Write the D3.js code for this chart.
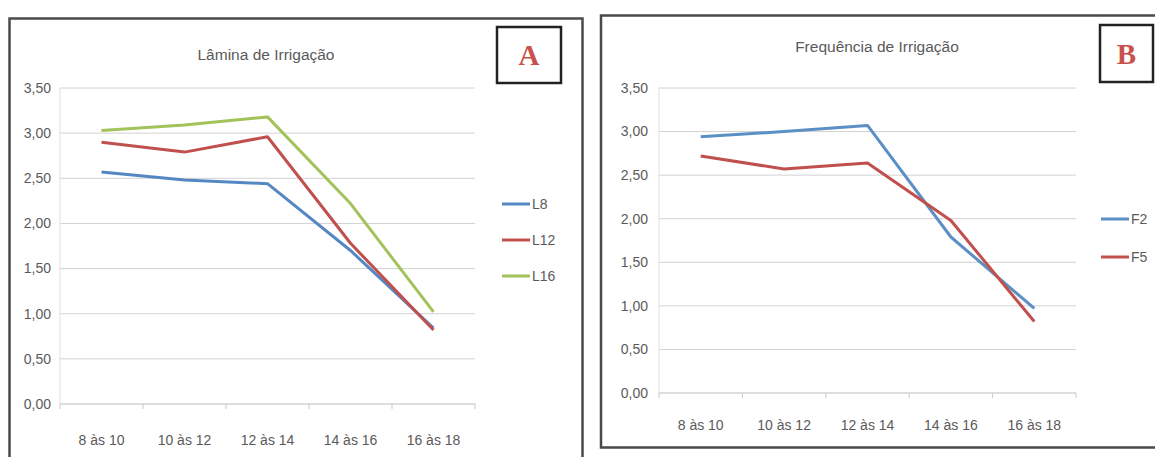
<!DOCTYPE html>
<html>
<head>
<meta charset="utf-8">
<script src="https://cdn.jsdelivr.net/npm/d3@7"></script>
<style>
  html, body { margin: 0; padding: 0; background: #ffffff; }
  svg { display: block; }
  .lbl { font-family: "Liberation Sans", Arial, sans-serif; fill: #5a5a5a; }
</style>
</head>
<body>
<svg id="chart" width="1155" height="457"></svg>
<script>
// Time windows of the day (x categories)
const periods = ["8 às 10", "10 às 12", "12 às 14", "14 às 16", "16 às 18"];
const yTicks = [0, 0.5, 1, 1.5, 2, 2.5, 3, 3.5];

// Panel A – irrigation depth
const seriesA = ["L8", "L12", "L16"];
const L8  = [2.57, 2.48, 2.44, 1.70, 0.84];
const L12 = [2.90, 2.79, 2.96, 1.78, 0.82];
const L16 = [3.03, 3.09, 3.18, 2.22, 1.02];

// Panel B – irrigation frequency
const seriesB = ["F2", "F5"];
const F2 = [2.94, 3.00, 3.07, 1.79, 0.97];
const F5 = [2.72, 2.57, 2.64, 1.98, 0.82];

const colors = { L8: "#5587c2", L12: "#c0504d", L16: "#a3c35a", F2: "#5b8fc6", F5: "#c0504d" };
const fmt = v => d3.format(".2f")(v).replace(".", ",");

const svg = d3.select("#chart");

function panel(cfg) {
  const g = svg.append("g");

  // outer frame
  g.append("rect")
    .attr("x", cfg.frame[0]).attr("y", cfg.frame[1])
    .attr("width", cfg.frame[2]).attr("height", cfg.frame[3])
    .attr("fill", "none").attr("stroke", "#4a4a4a").attr("stroke-width", 2.5);

  const x = d3.scaleBand().domain(periods).range(cfg.xr).padding(0);
  const y = d3.scaleLinear().domain([0, 3.5]).range(cfg.yr);

  // horizontal gridlines
  g.append("g").selectAll("line").data(yTicks).join("line")
    .attr("x1", cfg.xr[0]).attr("x2", cfg.xr[1])
    .attr("y1", d => y(d)).attr("y2", d => y(d))
    .attr("stroke", d => d === 0 ? "#bdbdbd" : "#d2d2d2").attr("stroke-width", 1);

  // vertical axis line
  g.append("line")
    .attr("x1", cfg.xr[0]).attr("x2", cfg.xr[0])
    .attr("y1", y(3.5)).attr("y2", y(0))
    .attr("stroke", "#e0e0e0");

  // category tick marks at band edges
  const edges = periods.map(p => x(p)).concat([cfg.xr[1]]);
  g.append("g").selectAll("line").data(edges).join("line")
    .attr("x1", d => d).attr("x2", d => d)
    .attr("y1", y(0)).attr("y2", y(0) + 5)
    .attr("stroke", "#c8c8c8");

  // y tick labels
  g.append("g").selectAll("text").data(yTicks).join("text")
    .attr("class", "lbl")
    .attr("x", cfg.yLabelX).attr("y", d => y(d))
    .attr("dy", "0.35em").attr("text-anchor", "end")
    .attr("font-size", 14)
    .text(fmt);

  // x tick labels
  g.append("g").selectAll("text").data(periods).join("text")
    .attr("class", "lbl")
    .attr("x", d => x(d) + x.bandwidth() / 2).attr("y", cfg.xLabelY)
    .attr("text-anchor", "middle").attr("font-size", 14)
    .text(d => d);

  // title
  g.append("text").attr("class", "lbl")
    .attr("x", cfg.title[1]).attr("y", cfg.title[2])
    .attr("text-anchor", "middle").attr("font-size", 15.5)
    .text(cfg.title[0]);

  // series lines
  const line = d3.line()
    .x((d, i) => x(periods[i]) + x.bandwidth() / 2)
    .y(d => y(d));
  cfg.series.forEach(s => {
    g.append("path")
      .datum(cfg.values[s])
      .attr("d", line)
      .attr("fill", "none")
      .attr("stroke", colors[s])
      .attr("stroke-width", 3)
      .attr("stroke-linejoin", "round");
  });

  // legend
  cfg.series.forEach((s, i) => {
    const ly = cfg.legend[1] + i * cfg.legend[2];
    g.append("line")
      .attr("x1", cfg.legend[0]).attr("x2", cfg.legend[0] + 28)
      .attr("y1", ly).attr("y2", ly)
      .attr("stroke", colors[s]).attr("stroke-width", 3);
    g.append("text").attr("class", "lbl")
      .attr("x", cfg.legend[0] + 30).attr("y", ly).attr("dy", "0.35em")
      .attr("font-size", 14).text(s);
  });

  // panel letter box
  const b = cfg.badge;
  g.append("rect")
    .attr("x", b[1]).attr("y", b[2]).attr("width", b[3]).attr("height", b[4])
    .attr("fill", "#fff").attr("stroke", "#222").attr("stroke-width", 2.5);
  g.append("text")
    .attr("x", b[1] + b[3] / 2).attr("y", b[2] + b[4] / 2).attr("dy", "0.36em")
    .attr("text-anchor", "middle")
    .attr("font-family", "'Liberation Serif', 'DejaVu Serif', serif")
    .attr("font-weight", "bold").attr("font-size", 29)
    .attr("fill", "#c9504b")
    .text(b[0]);
}

panel({
  frame: [9.5, 18.5, 573, 460],
  xr: [60, 475], yr: [404, 88],
  yLabelX: 51, xLabelY: 445,
  title: ["Lâmina de Irrigação", 266, 60],
  series: seriesA, values: { L8, L12, L16 },
  legend: [502, 204, 36],
  badge: ["A", 497, 27, 64, 56]
});

panel({
  frame: [601, 15.5, 570, 432],
  xr: [659, 1076], yr: [393, 88],
  yLabelX: 648, xLabelY: 430,
  title: ["Frequência de Irrigação", 877, 52],
  series: seriesB, values: { F2, F5 },
  legend: [1101, 219, 38],
  badge: ["B", 1100, 25, 53, 57]
});
</script>
</body>
</html>
